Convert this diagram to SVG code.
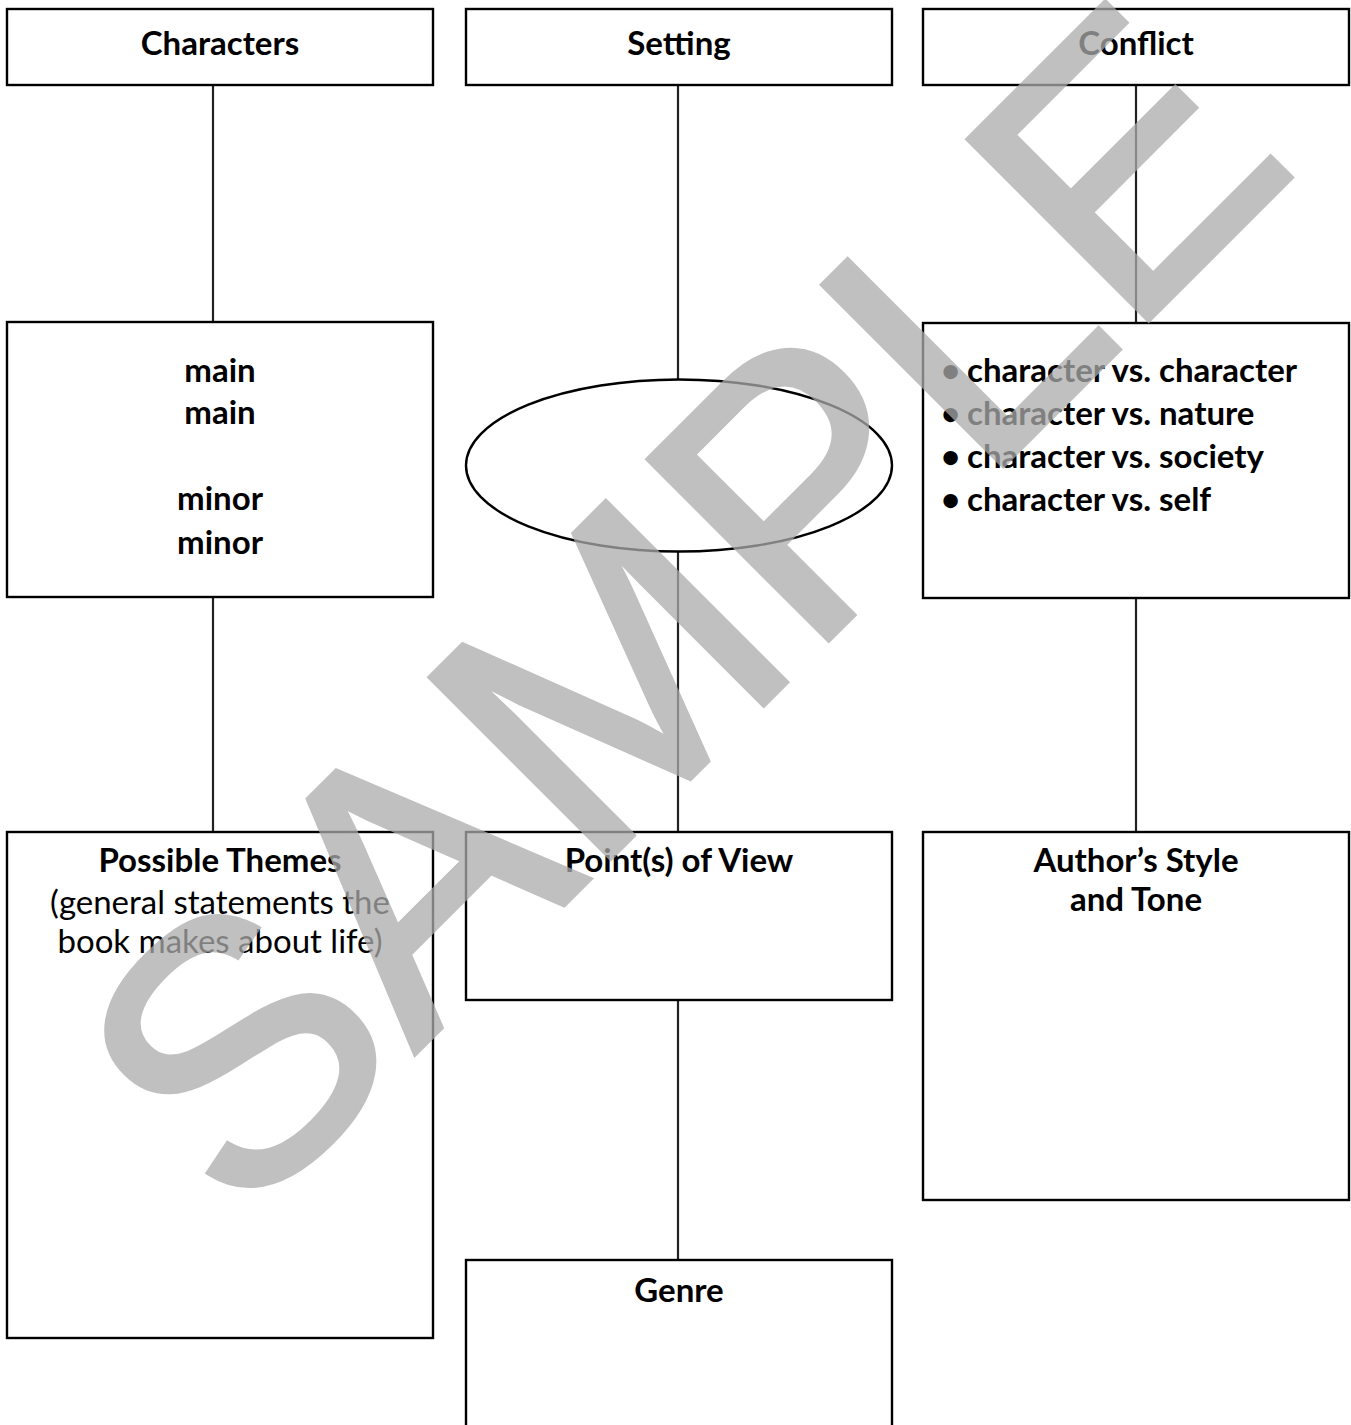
<svg xmlns="http://www.w3.org/2000/svg" width="1351" height="1425" viewBox="0 0 1351 1425">
<style>
.box{fill:#fff;stroke:#000;stroke-width:2.4}
.con{stroke:#222;stroke-width:2.2;fill:none}
.h{font-family:Lato,"Liberation Sans",sans-serif;font-weight:700;font-size:33px;fill:#000;text-anchor:middle}
.r{font-family:Lato,"Liberation Sans",sans-serif;font-weight:400;font-size:33px;fill:#000;text-anchor:middle}
.l{font-family:Lato,"Liberation Sans",sans-serif;font-weight:700;font-size:33px;fill:#000}
.wm{font-family:"Liberation Sans",sans-serif;font-size:370px;fill:#ababab;stroke:#ababab;stroke-width:6;stroke-linejoin:miter}
</style>
<rect width="1351" height="1425" fill="#fff"/>
<g id="connectors">
<line class="con" x1="213" y1="85" x2="213" y2="322"/>
<line class="con" x1="213" y1="597" x2="213" y2="832"/>
<line class="con" x1="678" y1="85" x2="678" y2="380"/>
<line class="con" x1="678" y1="551" x2="678" y2="832"/>
<line class="con" x1="678" y1="1000" x2="678" y2="1260"/>
<line class="con" x1="1136" y1="85" x2="1136" y2="323"/>
<line class="con" x1="1136" y1="598" x2="1136" y2="832"/>
</g>
<g id="characters"><rect class="box" x="7" y="9" width="426" height="76"/><text class="h" x="220" y="55">Characters</text></g>
<g id="setting"><rect class="box" x="466" y="9" width="426" height="76"/><text class="h" x="679" y="55">Setting</text></g>
<g id="conflict"><rect class="box" x="923" y="9" width="426" height="76"/><text class="h" x="1136" y="55">Conflict</text></g>
<g id="char-list"><rect class="box" x="7" y="322" width="426" height="275"/>
<text class="h" x="220" y="382">main</text><text class="h" x="220" y="424">main</text>
<text class="h" x="220" y="510">minor</text><text class="h" x="220" y="554">minor</text></g>
<g id="setting-ellipse"><ellipse class="box" cx="679" cy="465.5" rx="213" ry="86"/></g>
<g id="conflict-list"><rect class="box" x="923" y="323" width="426" height="275"/>
<text class="l" x="941" y="382">•</text><text class="l" x="967" y="382">character vs. character</text>
<text class="l" x="941" y="425">•</text><text class="l" x="967" y="425">character vs. nature</text>
<text class="l" x="941" y="468">•</text><text class="l" x="967" y="468">character vs. society</text>
<text class="l" x="941" y="511">•</text><text class="l" x="967" y="511">character vs. self</text></g>
<g id="themes"><rect class="box" x="7" y="832" width="426" height="506"/>
<text class="h" x="220" y="872">Possible Themes</text>
<text class="r" x="220" y="914">(general statements the</text>
<text class="r" x="220" y="953">book makes about life)</text></g>
<g id="pov"><rect class="box" x="466" y="832" width="426" height="168"/><text class="h" x="679" y="872">Point(s) of View</text></g>
<g id="style"><rect class="box" x="923" y="832" width="426" height="368"/>
<text class="h" x="1136" y="872">Author’s Style</text><text class="h" x="1136" y="911">and Tone</text></g>
<g id="genre"><rect class="box" x="466" y="1260" width="426" height="180"/><text class="h" x="679" y="1302">Genre</text></g>
<g id="watermark" opacity="0.75"><text class="wm" text-anchor="middle" transform="translate(677,603) rotate(-45)" y="133">SAMPLE</text></g>
</svg>
